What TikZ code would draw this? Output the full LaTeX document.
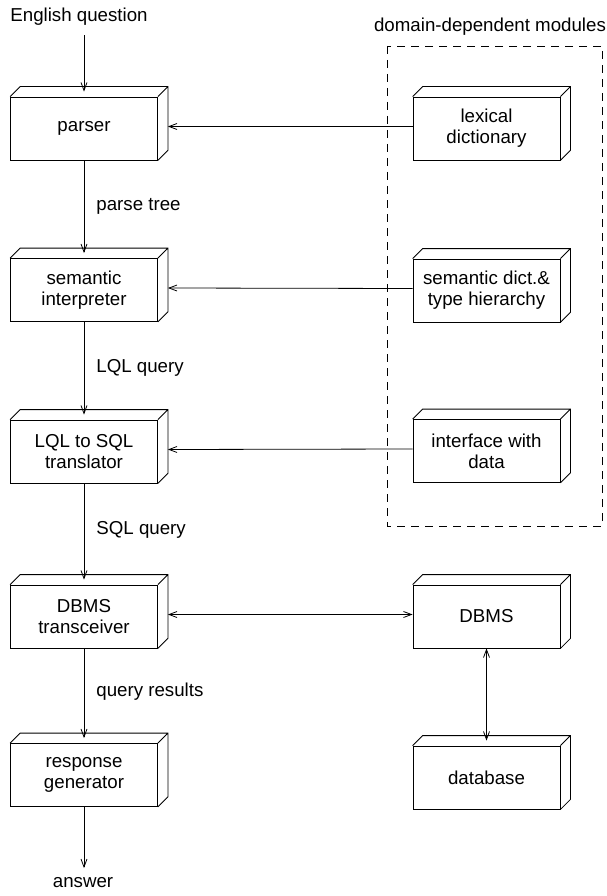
\documentclass[tikz,border=0pt]{standalone}
\usepackage{fontspec}
\setmainfont{Liberation Sans}
\usetikzlibrary{arrows.meta}
\begin{document}
\begin{tikzpicture}[x=1pt,y=-1pt,
  font=\fontsize{18.7}{21}\selectfont,
  every path/.style={line width=0.8pt},
  module/.style={draw, fill=white, minimum width=147pt, minimum height=63pt,
    align=center, inner sep=0pt},
  flow/.style={-{Straight Barb[length=8pt,width=6pt]}},
  twoway/.style={{Straight Barb[length=8pt,width=6pt]}-{Straight Barb[length=8pt,width=6pt]}},
  edgelabel/.style={anchor=west, inner sep=0pt},
  group/.style={draw, dash pattern=on 8pt off 6pt}]
\useasboundingbox (0,0) rectangle (606,896);

% dashed frame around the domain-dependent modules
\draw[group] (387,46) rectangle (602,526);
\node (grouptitle) at (490,27) {domain-dependent modules};

% processing chain
\node (question) at (79,17) {English question};
\node[module] (parser)   at (84,128.5) {parser};
\node[module] (interp)   at (84,290)   {semantic\\interpreter};
\node[module] (transl)   at (84,451.5) {LQL to SQL\\translator};
\node[module] (dbmstx)   at (84,616.5) {DBMS\\transceiver};
\node[module] (respgen)  at (84,775)   {response\\generator};
\node (answer) at (83,883) {answer};

% domain-dependent modules and the database side
\node[module] (lexdict)  at (486.5,128.5) {lexical\\dictionary};
\node[module] (semdict)  at (486.5,290.5) {semantic dict.\&\\type hierarchy};
\node[module] (ifdata)   at (486.5,451)   {interface with\\data};
\node[module] (dbms)     at (486.5,616.5) {DBMS};
\node[module] (database) at (486.5,777.5) {database};

% top and side faces giving each module its depth
\foreach \n in {parser,interp,transl,dbmstx,respgen,lexdict,semdict,ifdata,dbms,database}{
  \draw (\n.north west) -- ++(10pt,10pt) -- ([shift={(10pt,10pt)}]\n.north east)
        -- ([shift={(10pt,10pt)}]\n.south east) -- (\n.south east)
        (\n.north east) -- ([shift={(10pt,10pt)}]\n.north east);
}

% vertical flow
\coordinate (qbot) at ([yshift=-6pt]question.south -| parser.north);
\coordinate (atop) at ([yshift=6pt]answer.north -| respgen.south);
\draw[flow] (qbot) -- ([shift={(0pt,5pt)}]parser.north);
\draw[flow] (parser.south) -- ([shift={(0pt,5pt)}]interp.north);
\draw[flow] (interp.south) -- ([shift={(0pt,5pt)}]transl.north);
\draw[flow] (transl.south) -- ([shift={(0pt,5pt)}]dbmstx.north);
\draw[flow] (dbmstx.south) -- ([shift={(0pt,5pt)}]respgen.north);
\draw[flow] (respgen.south) -- (atop);
\draw[twoway] (dbms.south) -- ([shift={(0pt,5pt)}]database.north);

% flow labels
\node[edgelabel] (lbl1) at (96,206) {parse tree};
\node[edgelabel] (lbl2) at (96,368) {LQL query};
\node[edgelabel] (lbl3) at (96,530) {SQL query};
\node[edgelabel] (lbl4) at (96,692) {query results};

% horizontal connections from the modules
\draw[flow] ([shift={(0pt,2pt)}]lexdict.west) -- ([shift={(10pt,2pt)}]parser.east);
\draw[flow] ([shift={(0pt,2pt)}]semdict.west) -- ([shift={(10pt,2pt)}]interp.east);
\draw[flow] ([shift={(0pt,2pt)}]ifdata.west) -- ([shift={(10pt,2pt)}]transl.east);
\draw[twoway] ([shift={(0pt,2pt)}]dbms.west) -- ([shift={(10pt,2pt)}]dbmstx.east);
\end{tikzpicture}
\end{document}
